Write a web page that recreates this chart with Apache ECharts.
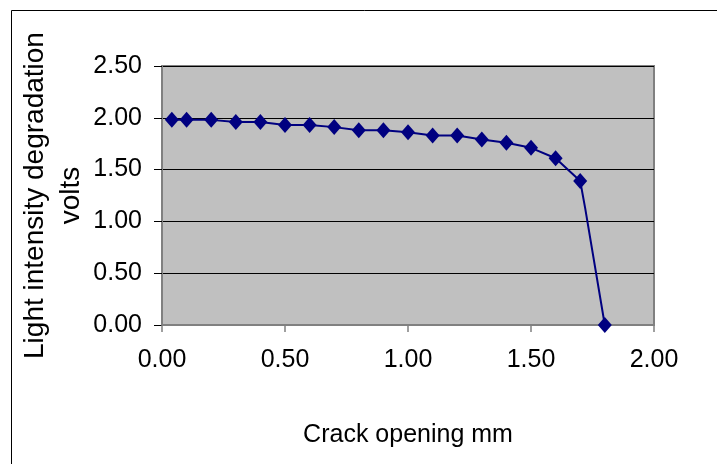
<!DOCTYPE html>
<html>
<head>
<meta charset="utf-8">
<script src="https://cdn.jsdelivr.net/npm/echarts@6/dist/echarts.min.js"></script>
<style>html,body{margin:0;padding:0;background:#fff;}#c{width:717px;height:464px;}</style>
</head>
<body>
<div id="c"></div>
<script>
// Crack opening (mm)
var crackOpening = [0.04, 0.10, 0.20, 0.30, 0.40, 0.50, 0.60, 0.70, 0.80, 0.90, 1.00, 1.10, 1.20, 1.30, 1.40, 1.50, 1.60, 1.70, 1.72, 1.80];
// Light intensity degradation (volts)
var voltage = [1.98, 1.98, 1.98, 1.96, 1.96, 1.93, 1.93, 1.91, 1.88, 1.88, 1.86, 1.83, 1.83, 1.79, 1.76, 1.71, 1.61, 1.39, 1.13, 0.00];
// markers hidden on unmarked points
var hiddenMarker = [false, false, false, false, false, false, false, false, false, false, false, false, false, false, false, false, false, false, true, false];

var data = crackOpening.map(function (x, i) {
  var d = { value: [x, voltage[i]] };
  if (hiddenMarker[i]) d.symbol = 'none';
  return d;
});

var FONT = '"Liberation Sans", Arial, sans-serif';
var chart = echarts.init(document.getElementById('c'), null, { renderer: 'canvas' });
chart.setOption({
  animation: false,
  backgroundColor: '#ffffff',
  graphic: [{
    type: 'rect',
    shape: { x: 11.5, y: 10.5, width: 720, height: 470 },
    style: { fill: 'none', stroke: '#000', lineWidth: 1 },
    silent: true, z: -1
  }],
  grid: {
    left: 162, top: 66, right: 63, bottom: 139,
    show: true, backgroundColor: '#C0C0C0', borderColor: '#808080', borderWidth: 2
  },
  xAxis: {
    type: 'value', min: 0, max: 2, interval: 0.5,
    name: 'Crack opening mm', nameLocation: 'middle', nameGap: 98, nameMoveOverlap: false,
    nameTextStyle: { fontFamily: FONT, fontSize: 25, color: '#000' },
    axisLine: { show: true, lineStyle: { color: '#808080', width: 2 } },
    axisTick: { show: true, length: 7, lineStyle: { color: '#808080', width: 1.5 } },
    axisLabel: { margin: 23, fontFamily: FONT, fontSize: 25, color: '#000',
      formatter: function (v) { return v.toFixed(2); } },
    splitLine: { show: false }
  },
  yAxis: {
    type: 'value', min: 0, max: 2.5, interval: 0.5,
    name: 'Light intensity degradation\nvolts', nameLocation: 'middle', nameGap: 73, nameMoveOverlap: false,
    nameTextStyle: { fontFamily: FONT, fontSize: 28, color: '#000', lineHeight: 36, align: 'center' },
    axisLine: { show: true, lineStyle: { color: '#808080', width: 2 } },
    axisTick: { show: true, length: 8, lineStyle: { color: '#000', width: 1 } },
    axisLabel: { margin: 20, fontFamily: FONT, fontSize: 25, color: '#000',
      formatter: function (v) { return v.toFixed(2); } },
    splitLine: { show: true, lineStyle: { color: '#000', width: 1 } }
  },
  series: [{
    type: 'line',
    data: data,
    smooth: false,
    symbol: 'diamond',
    symbolSize: [14, 16],
    lineStyle: { color: '#000080', width: 2 },
    itemStyle: { color: '#000080' },
    clip: false,
    z: 5
  }]
});
</script>
</body>
</html>
